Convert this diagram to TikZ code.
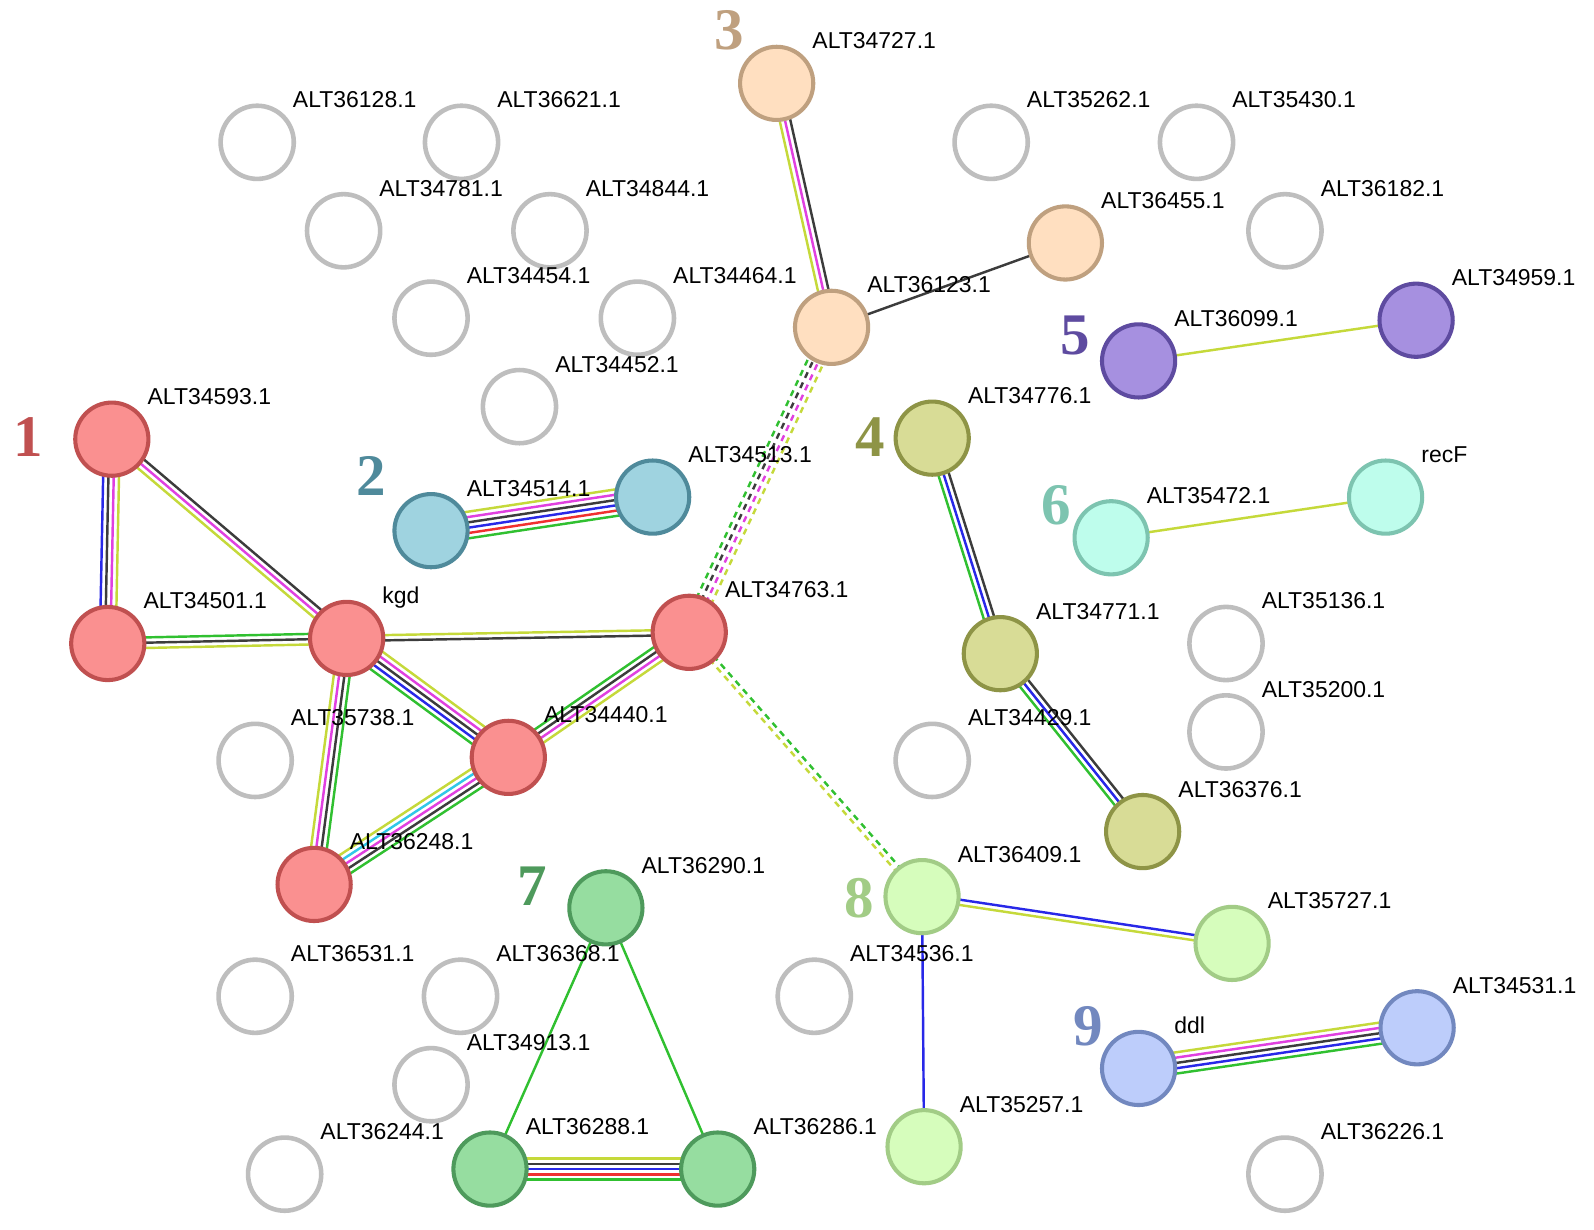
\documentclass[tikz,border=0pt]{standalone}
\usepackage{fontspec}
\setmainfont{Liberation Sans}
\newfontfamily\numfont{Liberation Serif}
\usetikzlibrary{calc}
\pgfdeclarelayer{back}
\pgfdeclarelayer{bg}
\pgfsetlayers{back,bg,main}
\definecolor{ey}{HTML}{C5D93A}
\definecolor{em}{HTML}{E040E0}
\definecolor{ek}{HTML}{3C3C3C}
\definecolor{eb}{HTML}{2828E8}
\definecolor{eg}{HTML}{30C030}
\definecolor{er}{HTML}{F03030}
\definecolor{ec}{HTML}{30C8E8}
\definecolor{gr}{HTML}{BEBEBE}
\definecolor{c1f}{HTML}{FA9090}\definecolor{c1b}{HTML}{C05050}
\definecolor{c2f}{HTML}{9FD3E0}\definecolor{c2b}{HTML}{4F8A9B}
\definecolor{c3f}{HTML}{FFDFC0}\definecolor{c3b}{HTML}{BFA07F}
\definecolor{c4f}{HTML}{D8DC96}\definecolor{c4b}{HTML}{8E9446}
\definecolor{c5f}{HTML}{A690E0}\definecolor{c5b}{HTML}{5E4BA0}
\definecolor{c6f}{HTML}{BEFDEC}\definecolor{c6b}{HTML}{7DC4B0}
\definecolor{c7f}{HTML}{96DDA0}\definecolor{c7b}{HTML}{4E9A5C}
\definecolor{c8f}{HTML}{D6FDBC}\definecolor{c8b}{HTML}{A2CC86}
\definecolor{c9f}{HTML}{BDCDFB}\definecolor{c9b}{HTML}{7288BF}
\newcommand\lsp{5.2}
\newcommand\medge[5][]{%
  \foreach \col [count=\i] in {#5}{%
    \pgfmathsetmacro\off{((#4+1)/2-\i)*\lsp}%
    \draw[edge,draw=\col,#1] ($(#2)!\off pt!90:(#3)$) -- ($(#3)!\off pt!-90:(#2)$);
  }}
\tikzset{
  prot/.style={circle,minimum size=72pt,inner sep=0pt,line width=4pt},
  gnode/.style={prot,draw=gr,fill=white,line width=4.5pt},
  k1/.style={prot,draw=c1b,fill=c1f},
  k2/.style={prot,draw=c2b,fill=c2f},
  k3/.style={prot,draw=c3b,fill=c3f},
  k4/.style={prot,draw=c4b,fill=c4f},
  k5/.style={prot,draw=c5b,fill=c5f},
  k6/.style={prot,draw=c6b,fill=c6f},
  k7/.style={prot,draw=c7b,fill=c7f},
  k8/.style={prot,draw=c8b,fill=c8f},
  k9/.style={prot,draw=c9b,fill=c9f},
  lbl/.style={anchor=base west,inner sep=0pt,font=\fontsize{22.6}{26}\selectfont,text=black},
  num/.style={inner sep=0pt,font=\numfont\bfseries\fontsize{58}{62}\selectfont},
  edge/.style={line width=2.4pt},
  dsh/.style={dash pattern=on 6pt off 5pt},
}
\newcommand\plabel[2]{\node[lbl] (#1-l) at ($(#1)+(35,-34)$) {#2};}
\begin{document}
\begin{tikzpicture}[x=1pt,y=-1pt]
\begin{pgfonlayer}{back}
\fill[white] (0,0) rectangle (1568,1209);
\end{pgfonlayer}
\useasboundingbox (0,0) rectangle (1568,1209);
% grey nodes
\node[gnode] (g36128) at (253,140) {};
\node[gnode] (g36621) at (454,140) {};
\node[gnode] (g34781) at (338,227) {};
\node[gnode] (g34844) at (541,227) {};
\node[gnode] (g34454) at (424,313) {};
\node[gnode] (g34464) at (627,313) {};
\node[gnode] (g34452) at (511,400) {};
\node[gnode] (g35262) at (975,140) {};
\node[gnode] (g35430) at (1177,140) {};
\node[gnode] (g36182) at (1264,227) {};
\node[gnode] (g35136) at (1206,633) {};
\node[gnode] (g35200) at (1206,720) {};
\node[gnode] (g34429) at (917,748) {};
\node[gnode] (g35738) at (251,748) {};
\node[gnode] (g36531) at (251,980) {};
\node[gnode] (g36368) at (453,980) {};
\node[gnode] (g34536) at (801,980) {};
\node[gnode] (g34913) at (424,1067) {};
\node[gnode] (g36244) at (280,1155) {};
\node[gnode] (g36226) at (1264,1155) {};
% cluster 1
\node[k1] (a34593) at (110,432) {};
\node[k1] (a34501) at (106,633) {};
\node[k1] (kgd) at (341,628) {};
\node[k1] (a34763) at (678,622) {};
\node[k1] (a34440) at (500,745) {};
\node[k1] (a36248) at (309,870) {};
% cluster 2
\node[k2] (a34514) at (424,522) {};
\node[k2] (a34513) at (642,489) {};
% cluster 3
\node[k3] (a34727) at (764,82) {};
\node[k3] (a36123) at (818,322) {};
\node[k3] (a36455) at (1048,239) {};
% cluster 4
\node[k4] (a34776) at (917,431) {};
\node[k4] (a34771) at (984,643) {};
\node[k4] (a36376) at (1124,818) {};
% cluster 5
\node[k5] (a36099) at (1120,355) {};
\node[k5] (a34959) at (1393,315) {};
% cluster 6
\node[k6] (a35472) at (1093,529) {};
\node[k6] (recF) at (1363,489) {};
% cluster 7
\node[k7] (a36290) at (596,893) {};
\node[k7] (a36288) at (482,1150) {};
\node[k7] (a36286) at (706,1150) {};
% cluster 8
\node[k8] (a36409) at (907,882) {};
\node[k8] (a35727) at (1212,928) {};
\node[k8] (a35257) at (909,1128) {};
% cluster 9
\node[k9] (ddl) at (1120,1051) {};
\node[k9] (a34531) at (1394,1011) {};
% edges
\begin{pgfonlayer}{bg}
\medge{a34501}{a34593}{4}{eb,ek,em,ey}
\medge{a34593}{kgd}{3}{ek,em,ey}
\medge{a34501}{kgd}{3}{eg,ek,ey}
\medge{kgd}{a34763}{2}{ey,ek}
\medge{kgd}{a34440}{5}{ey,em,ek,eb,eg}
\medge{a36248}{kgd}{4}{ey,em,ek,eg}
\medge{a36248}{a34440}{5}{ey,ec,em,ek,eg}
\medge{a34440}{a34763}{4}{eg,ek,em,ey}
\medge[dsh]{a34763}{a36123}{4}{eg,ek,em,ey}
\medge[dsh]{a34763}{a36409}{2}{eg,ey}
\medge{a34514}{a34513}{6}{ey,em,ek,eb,er,eg}
\medge{a36123}{a34727}{3}{ey,em,ek}
\medge{a36123}{a36455}{1}{ek}
\medge{a36099}{a34959}{1}{ey}
\medge{a34771}{a34776}{3}{eg,eb,ek}
\medge{a36376}{a34771}{3}{eg,eb,ek}
\medge{a35472}{recF}{1}{ey}
\medge{a36290}{a36288}{1}{eg}
\medge{a36290}{a36286}{1}{eg}
\medge{a36288}{a36286}{5}{ey,ek,eb,er,eg}
\medge{a36409}{a35727}{2}{eb,ey}
\medge{a36409}{a35257}{1}{eb}
\medge{ddl}{a34531}{5}{ey,em,ek,eb,eg}
\end{pgfonlayer}
% labels
\plabel{g36128}{ALT36128.1}
\plabel{g36621}{ALT36621.1}
\plabel{g34781}{ALT34781.1}
\plabel{g34844}{ALT34844.1}
\plabel{g34454}{ALT34454.1}
\plabel{g34464}{ALT34464.1}
\plabel{g34452}{ALT34452.1}
\plabel{g35262}{ALT35262.1}
\plabel{g35430}{ALT35430.1}
\plabel{g36182}{ALT36182.1}
\plabel{g35136}{ALT35136.1}
\plabel{g35200}{ALT35200.1}
\plabel{g34429}{ALT34429.1}
\plabel{g35738}{ALT35738.1}
\plabel{g36531}{ALT36531.1}
\plabel{g36368}{ALT36368.1}
\plabel{g34536}{ALT34536.1}
\plabel{g34913}{ALT34913.1}
\plabel{g36244}{ALT36244.1}
\plabel{g36226}{ALT36226.1}
\plabel{a34593}{ALT34593.1}
\plabel{a34501}{ALT34501.1}
\plabel{kgd}{kgd}
\plabel{a34763}{ALT34763.1}
\plabel{a34440}{ALT34440.1}
\plabel{a36248}{ALT36248.1}
\plabel{a34514}{ALT34514.1}
\plabel{a34513}{ALT34513.1}
\plabel{a34727}{ALT34727.1}
\plabel{a36123}{ALT36123.1}
\plabel{a36455}{ALT36455.1}
\plabel{a34776}{ALT34776.1}
\plabel{a34771}{ALT34771.1}
\plabel{a36376}{ALT36376.1}
\plabel{a36099}{ALT36099.1}
\plabel{a34959}{ALT34959.1}
\plabel{a35472}{ALT35472.1}
\plabel{recF}{recF}
\plabel{a36290}{ALT36290.1}
\plabel{a36288}{ALT36288.1}
\plabel{a36286}{ALT36286.1}
\plabel{a36409}{ALT36409.1}
\plabel{a35727}{ALT35727.1}
\plabel{a35257}{ALT35257.1}
\plabel{ddl}{ddl}
\plabel{a34531}{ALT34531.1}
% cluster numbers
\node[num,text=c1b] (n1) at (28,430) {1};
\node[num,text=c2b] (n2) at (365,468) {2};
\node[num,text=c3b] (n3) at (717,30) {3};
\node[num,text=c4b] (n4) at (856,430) {4};
\node[num,text=c5b] (n5) at (1058,330) {5};
\node[num,text=c6b] (n6) at (1039,497) {6};
\node[num,text=c7b] (n7) at (524,872) {7};
\node[num,text=c8b] (n8) at (845,884) {8};
\node[num,text=c9b] (n9) at (1070,1010) {9};
\end{tikzpicture}
\end{document}
